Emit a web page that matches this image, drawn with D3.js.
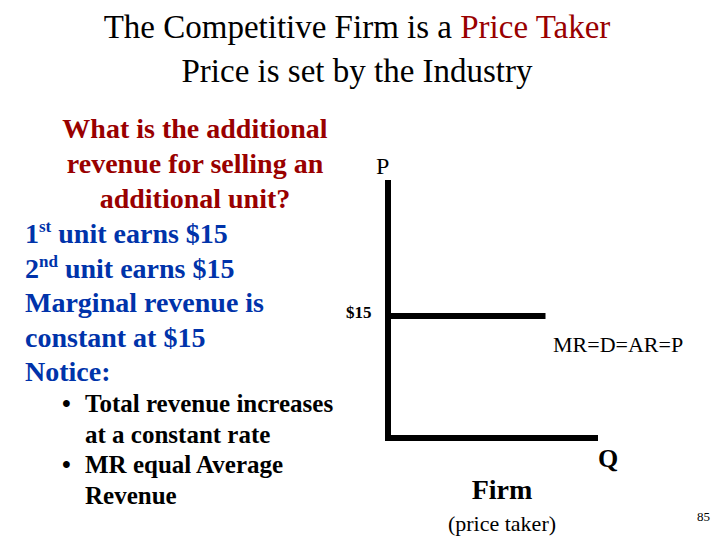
<!DOCTYPE html><html><head><meta charset="utf-8"><script src="https://cdn.jsdelivr.net/npm/d3@7"></script>
<style>body{margin:0;background:#fff}text{font-family:"Liberation Serif","Times New Roman",serif}</style></head><body><script>
const price=[15,15];
const qRange=[0,7.5];
const redText=["What is the additional","revenue for selling an","additional unit?"];
const blueText=[["1","st"," unit earns $15"],["2","nd"," unit earns $15"],["Marginal revenue is","",""],["constant at $15","",""],["Notice:","",""]];
const bullets=[["• ","Total revenue increases"],["","at a constant rate"],["• ","MR equal Average"],["","Revenue"]];
const svg=d3.select("body").append("svg").attr("width",720).attr("height",540);
const red="#990000",blue="#0033aa";
const t1=svg.append("text").attr("x",357).attr("y",38).attr("text-anchor","middle").attr("font-size",33);
t1.append("tspan").text("The Competitive Firm is a ");t1.append("tspan").attr("fill",red).text("Price Taker");
svg.append("text").attr("x",357).attr("y",82).attr("text-anchor","middle").attr("font-size",33).text("Price is set by the Industry");
redText.forEach((s,i)=>svg.append("text").attr("x",195).attr("y",138+i*35).attr("text-anchor","middle").attr("font-size",28).attr("font-weight","bold").attr("fill",red).text(s));
blueText.forEach((s,i)=>{const t=svg.append("text").attr("x",25).attr("y",243+i*34.5).attr("font-size",28).attr("font-weight","bold").attr("fill",blue);
 t.append("tspan").text(s[0]);if(s[1]){t.append("tspan").attr("font-size",17).attr("dy",-11).text(s[1]);t.append("tspan").attr("dy",11).text(s[2]);}});
bullets.forEach((b,i)=>{const t=svg.append("text").attr("y",412+i*30.5).attr("font-size",25).attr("font-weight","bold");
 t.append("tspan").attr("x",62).text(b[0]);t.append("tspan").attr("x",85).text(b[1]);});
const x=d3.scaleLinear().domain([0,10]).range([388,598]);
const y=d3.scaleLinear().domain([0,31.7]).range([438,180]);
svg.append("path").attr("d",`M${x(0)},${y(31.7)}V${y(0)}H${x(10)}`).attr("fill","none").attr("stroke","#000").attr("stroke-width",6);
svg.append("line").attr("x1",x(qRange[0])).attr("x2",x(qRange[1])).attr("y1",y(price[0])).attr("y2",y(price[1])).attr("stroke","#000").attr("stroke-width",6);
svg.append("text").attr("x",376).attr("y",174).attr("font-size",24).text("P");
svg.append("text").attr("x",346).attr("y",318).attr("font-size",17).attr("font-weight","bold").text("$15");
svg.append("text").attr("x",553).attr("y",352).attr("font-size",22).text("MR=D=AR=P");
svg.append("text").attr("x",598).attr("y",467).attr("font-size",26).attr("font-weight","bold").text("Q");
svg.append("text").attr("x",502).attr("y",499).attr("text-anchor","middle").attr("font-size",28).attr("font-weight","bold").text("Firm");
svg.append("text").attr("x",502).attr("y",531).attr("text-anchor","middle").attr("font-size",22).text("(price taker)");
svg.append("text").attr("x",697).attr("y",521).attr("font-size",13).attr("font-family","Liberation Sans").text("85");
</script></body></html>
